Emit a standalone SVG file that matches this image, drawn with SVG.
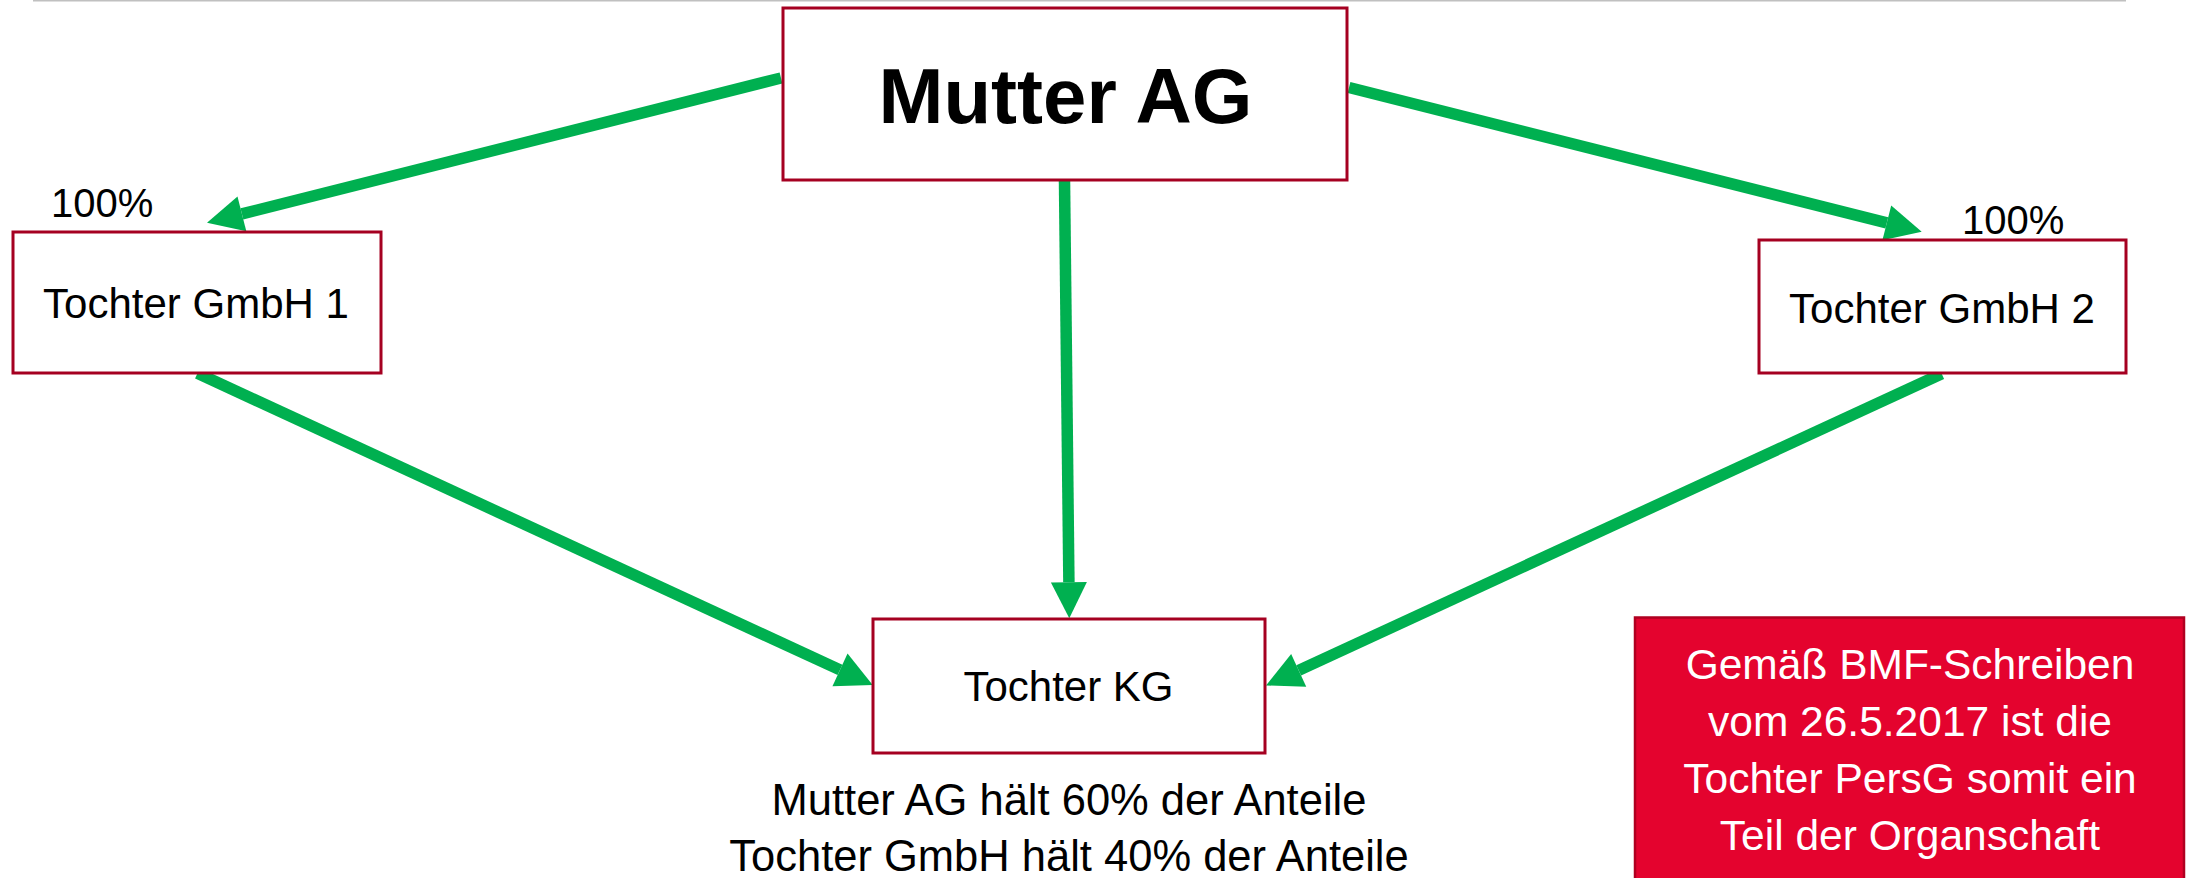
<svg xmlns="http://www.w3.org/2000/svg" width="2187" height="878" viewBox="0 0 2187 878">
<style>
.box{fill:#fff;stroke:#A50021;stroke-width:3}
.t{font-family:"Liberation Sans",Arial,sans-serif;fill:#000;text-anchor:middle}
.c{stroke:#00B050;stroke-width:11.5;fill:none}
</style>
<defs>
<marker id="ah" markerUnits="userSpaceOnUse" markerWidth="36" markerHeight="36" refX="0" refY="18" orient="auto" overflow="visible">
<path d="M0,0 L36,18 L0,36 Z" fill="#00B050"/>
</marker>
</defs>
<rect width="2187" height="878" fill="#fff"/>
<line x1="33" y1="0.8" x2="2126" y2="0.8" stroke="#c0c0c0" stroke-width="1.6"/>
<g id="connectors">
<line class="c" x1="781" y1="78" x2="241.9" y2="213.9" marker-end="url(#ah)"/>
<line class="c" x1="1349" y1="87.5" x2="1886.8" y2="222.9" marker-end="url(#ah)"/>
<line class="c" x1="1064.5" y1="181" x2="1068.9" y2="582.3" marker-end="url(#ah)"/>
<line class="c" x1="197.5" y1="373.3" x2="840" y2="669.9" marker-end="url(#ah)"/>
<line class="c" x1="1941.7" y1="373.7" x2="1298.7" y2="670.4" marker-end="url(#ah)"/>
</g>
<g id="mutter">
<rect class="box" x="783" y="8" width="564" height="172"/>
<text class="t" x="1065.5" y="123" font-size="78" font-weight="bold">Mutter AG</text>
</g>
<g id="gmbh1">
<rect class="box" x="13" y="232" width="368" height="141"/>
<text class="t" x="196" y="318" font-size="42">Tochter GmbH 1</text>
</g>
<text class="t" x="51" y="217" font-size="40" style="text-anchor:start">100%</text>
<g id="gmbh2">
<rect class="box" x="1759" y="240" width="367" height="133"/>
<text class="t" x="1942" y="323" font-size="42">Tochter GmbH 2</text>
</g>
<text class="t" x="1962" y="234" font-size="40" style="text-anchor:start">100%</text>
<g id="kg">
<rect class="box" x="873" y="619" width="392" height="134"/>
<text class="t" x="1068.5" y="701" font-size="42">Tochter KG</text>
</g>
<g id="kg-note">
<text class="t" x="1069" y="815" font-size="43.5">Mutter AG hält 60% der Anteile</text>
<text class="t" x="1069" y="871" font-size="43.5">Tochter GmbH hält 40% der Anteile</text>
</g>
<g id="note">
<rect x="1635" y="617.5" width="549" height="270" fill="#E4032E" stroke="#B00020" stroke-width="2.5"/>
<text class="t" x="1910" y="679" font-size="42.5" style="fill:#fff">Gemäß BMF-Schreiben</text>
<text class="t" x="1910" y="736" font-size="42.5" style="fill:#fff">vom 26.5.2017 ist die</text>
<text class="t" x="1910" y="793" font-size="42.5" style="fill:#fff">Tochter PersG somit ein</text>
<text class="t" x="1910" y="850" font-size="42.5" style="fill:#fff">Teil der Organschaft</text>
</g>
</svg>
